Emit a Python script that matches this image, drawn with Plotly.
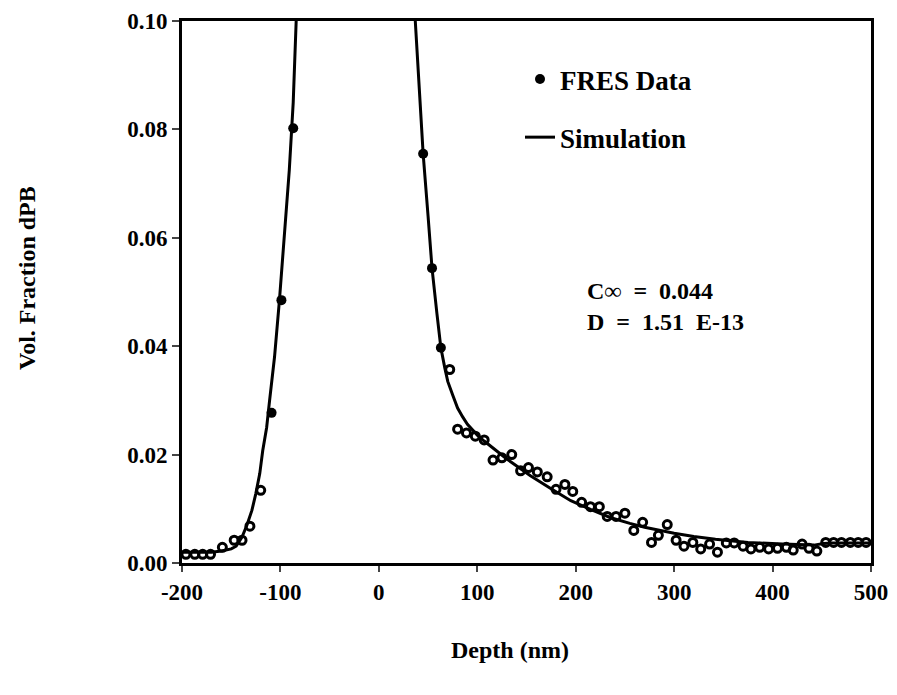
import plotly.graph_objects as go

# FRES data: steep (filled) points
fres_x_filled = [-109, -99, -87, 45, 54, 63]
fres_y_filled = [0.0277, 0.0485, 0.0802, 0.0755, 0.0544, 0.0397]

# FRES data: tail points (ring markers)
fres_x_open = [-196, -187, -179, -171, -159, -147, -139, -131, -120,
               72, 80, 89, 98, 107, 116, 125, 135, 144, 152, 161, 171, 180, 189,
               197, 206, 215, 224, 232, 241, 250, 259, 268, 277, 284, 293, 302,
               310, 319, 327, 336, 344, 353, 361, 370, 378, 387, 396, 405, 414,
               421, 430, 437, 445, 454, 462, 470, 479, 487, 495]
fres_y_open = [0.0016, 0.0016, 0.0016, 0.0016, 0.0029, 0.0042, 0.0042, 0.0068, 0.0134,
               0.0357, 0.0247, 0.0240, 0.0234, 0.0227, 0.0190, 0.0194, 0.0200, 0.0170,
               0.0176, 0.0168, 0.0159, 0.0136, 0.0145, 0.0132, 0.0112, 0.0104, 0.0104,
               0.0086, 0.0086, 0.0092, 0.0060, 0.0075, 0.0038, 0.0051, 0.0071, 0.0042,
               0.0031, 0.0038, 0.0026, 0.0035, 0.0020, 0.0037, 0.0037, 0.0031, 0.0026,
               0.0029, 0.0026, 0.0027, 0.0029, 0.0024, 0.0035, 0.0027, 0.0022, 0.0038,
               0.0038, 0.0038, 0.0038, 0.0038, 0.0038]

# Simulation curve (two branches, leaving the top of the plot)
sim_x = [-200, -170, -160, -150, -145, -139, -134, -129, -125, -121, -118, -114, -111,
         -106, -101, -96, -91, -87, -84, None,
         37, 41, 45, 50, 54, 59, 63, 67, 70, 75, 80, 85, 90, 100, 107, 130, 154, 175,
         195, 215, 235, 255, 270, 300, 320, 342, 375, 410, 442, 452, 460, 500]
sim_y = [0.0020, 0.0020, 0.0022, 0.0026, 0.0031, 0.0048, 0.0070, 0.0097, 0.0128, 0.0165,
         0.0207, 0.0250, 0.0300, 0.0380, 0.0485, 0.0600, 0.0725, 0.0850, 0.1000, None,
         0.1000, 0.0880, 0.0755, 0.0640, 0.0544, 0.0460, 0.0397, 0.0360, 0.0335, 0.0310,
         0.0286, 0.0270, 0.0256, 0.0236, 0.0225, 0.0192, 0.0161, 0.0137, 0.0115, 0.0099,
         0.0084, 0.0073, 0.0066, 0.0055, 0.0049, 0.0044, 0.0038, 0.0035, 0.0033, 0.0036,
         0.0037, 0.0037]

x_ticks = [-200, -100, 0, 100, 200, 300, 400, 500]
x_tick_labels = ["-200", "-100", "0", "100", "200", "300", "400", "500"]
y_ticks = [0.00, 0.02, 0.04, 0.06, 0.08, 0.10]
y_tick_labels = ["0.00", "0.02", "0.04", "0.06", "0.08", "0.10"]

FONT = "Liberation Serif"

# Page layout: the figure sits 8px from the page's top-left corner.
OFF = 8
FIG_W, FIG_H = 881, 679
PL, PR, PT, PB = 182, 871, 21, 563  # plot area edges in page pixels
PW, PH = PR - PL, PB - PT


def px(xp):
    return (xp - PL) / PW


def py(yp):
    return (PB - yp) / PH


fig = go.Figure()
fig.add_trace(go.Scatter(
    x=sim_x, y=sim_y, mode="lines", name="Simulation",
    line=dict(color="black", width=3), legendgroup="b", legendrank=2,
    connectgaps=False))
fig.add_trace(go.Scatter(
    x=fres_x_open, y=fres_y_open, mode="markers", showlegend=False,
    marker=dict(symbol="circle-open", size=8, color="black", line=dict(width=3, color="black")),
    cliponaxis=False))
fig.add_trace(go.Scatter(
    x=fres_x_filled, y=fres_y_filled, mode="markers", name="FRES Data",
    marker=dict(symbol="circle", size=10, color="black"), legendgroup="a", legendrank=1,
    cliponaxis=False))

fig.update_layout(
    width=FIG_W, height=FIG_H,
    margin=dict(l=PL - OFF, r=FIG_W - (PR - OFF), t=PT - OFF, b=FIG_H - (PB - OFF),
                autoexpand=False),
    paper_bgcolor="white", plot_bgcolor="white",
    font=dict(family=FONT, color="black", size=23),
    showlegend=True,
    legend=dict(x=px(520), y=py(55), xanchor="left", yanchor="top",
                bgcolor="rgba(0,0,0,0)", traceorder="grouped", tracegroupgap=20,
                font=dict(family=FONT, size=27, color="black", weight="bold"),
                itemsizing="trace"),
    xaxis=dict(range=[-200, 500], tickvals=x_ticks, ticktext=x_tick_labels, ticks="outside",
               ticklen=6, tickwidth=2, automargin=False, ticklabeloverflow="allow",
               showline=True, linewidth=3, linecolor="black", mirror=True, showgrid=False,
               zeroline=False, tickfont=dict(family=FONT, size=23, weight="bold")),
    yaxis=dict(range=[0, 0.1], tickvals=y_ticks, ticktext=y_tick_labels, ticks="outside",
               ticklen=7, tickwidth=2, automargin=False, ticklabeloverflow="allow",
               showline=True, linewidth=3, linecolor="black",
               mirror=True, showgrid=False, zeroline=False,
               tickfont=dict(family=FONT, size=23, weight="bold")),
    annotations=[
        dict(text="Depth (nm)", xref="paper", yref="paper",
             x=px(510), y=py(650), xanchor="center", yanchor="middle",
             showarrow=False, font=dict(family=FONT, size=24, weight="bold")),
        dict(text="Vol. Fraction dPB", xref="paper", yref="paper",
             x=px(27), y=py(278), xanchor="center", yanchor="middle",
             textangle=-90, showarrow=False, font=dict(family=FONT, size=24, weight="bold")),
        dict(text="C∞  =  0.044", xref="paper", yref="paper",
             x=px(585), y=py(291), xanchor="left", yanchor="middle",
             showarrow=False, font=dict(family=FONT, size=24, weight="bold")),
        dict(text="D  =  1.51  E-13", xref="paper", yref="paper",
             x=px(585), y=py(322), xanchor="left", yanchor="middle",
             showarrow=False, font=dict(family=FONT, size=24, weight="bold")),
    ],
)

fig.write_html("out.html")
